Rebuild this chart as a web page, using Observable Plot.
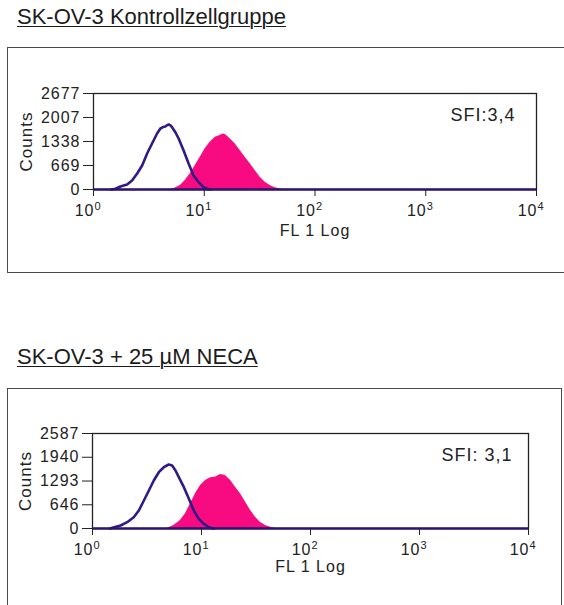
<!DOCTYPE html>
<html>
<head>
<meta charset="utf-8">
<script src="https://cdn.jsdelivr.net/npm/d3@7"></script>
<script src="https://cdn.jsdelivr.net/npm/@observablehq/plot@0.6"></script>
<style>
  html, body { margin: 0; padding: 0; background: #fff; }
  body { width: 564px; height: 605px; overflow: hidden; position: relative; font-family: "Liberation Sans", Arial, sans-serif; }
  .title { position: absolute; left: 17px; font-size: 22px; line-height: 22px; color: #1c1c1c; text-decoration: underline; text-decoration-thickness: 1.3px; text-underline-offset: 2px; white-space: nowrap; }
  .box { position: absolute; border: 1.5px solid #4a4a4a; box-sizing: border-box; }
  .panel { position: absolute; left: 0; }
  svg text { letter-spacing: 1px; }
</style>
</head>
<body>
<div class="title" id="t1" style="top:6px"></div>
<div class="box" style="left:7px; top:47px; width:580px; height:226px;"></div>
<div class="panel" id="p1" style="top:48px"></div>
<div class="title" id="t2" style="top:346px"></div>
<div class="box" style="left:7px; top:388px; width:555px; height:300px;"></div>
<div class="panel" id="p2" style="top:388px"></div>
<script>
// ---- Titles ----
const titles = ["SK-OV-3 Kontrollzellgruppe", "SK-OV-3 + 25 µM NECA"];
const sfiLabels = ["SFI:3,4", "SFI: 3,1"];
const yLabel = "Counts";
const xLabel = "FL 1 Log";

// ---- Axes ----
const xTicks = [1, 10, 100, 1000, 10000];
const xTickBase = "10";
const xTickExponents = ["0", "1", "2", "3", "4"];
const yTicksA = [0, 669, 1338, 2007, 2677];
const yTickLabelsA = ["0", "669", "1338", "2007", "2677"];
const yTicksB = [0, 646, 1293, 1940, 2587];
const yTickLabelsB = ["0", "646", "1293", "1940", "2587"];

// ---- Panel A: control histogram (outline) ----
const ctrlFL_A =     [1.45, 1.58, 1.75, 2.01, 2.23, 2.48, 2.75, 3.05, 3.38, 3.75, 4.02, 4.25, 4.45, 4.6, 4.77, 4.95, 5.12, 5.48, 5.87, 6.51, 7.22, 8.01, 8.89, 9.86, 10.9, 11.5];
const ctrlCounts_A = [0,    20,   84,   140,  251,  446,  669,  1004, 1283, 1562, 1701, 1740, 1757, 1790, 1813, 1785, 1737, 1598, 1422, 1088, 725,  390,  204,  64,   8,    0];
// ---- Panel A: stained histogram (filled) ----
const stainFL_A =     [5.0, 5.29, 6.08, 6.74, 7.48, 8.30, 9.20, 10.2, 11.3, 12.6, 13.9, 14.7, 15.5, 16.3, 17.1, 19.0, 21.1, 23.4, 26.0, 28.8, 32.0, 35.5, 39.3, 43.6, 50.1, 53];
const stainCounts_A = [0,   20,   112,  251,  437,  669,  901,  1135, 1320, 1459, 1506, 1545, 1534, 1480, 1413, 1274, 1088, 901,  716,  530,  344,  204,  112,  47,   8,    0];

// ---- Panel B: control histogram (outline) ----
const ctrlFL_B =     [1.45, 1.52, 1.81, 2.08, 2.39, 2.66, 2.96, 3.29, 3.65, 4.06, 4.51, 5.01, 5.38, 5.77, 6.19, 6.89, 7.66, 8.49, 9.44, 10.5, 11.7, 12.5, 13];
const ctrlCounts_B = [0,    19,   82,   172,  308,  490,  762,  1035, 1307, 1533, 1669, 1743, 1715, 1579, 1397, 1125, 809,  490,  264,  128,  35,   5,    0];
// ---- Panel B: stained histogram (filled) ----
const stainFL_B =     [4.8, 5.01, 5.57, 6.41, 7.13, 7.93, 8.81, 9.79, 10.9, 12.1, 13.4, 14.9, 16.6, 18.5, 20.5, 22.8, 25.4, 28.2, 31.3, 34.6, 38.6, 44.6, 48];
const stainCounts_B = [0,   19,   82,   218,  399,  672,  944,  1171, 1307, 1380, 1397, 1470, 1443, 1307, 1125, 944,  716,  490,  308,  172,  82,   19,   0];

const zip = (xs, ys) => xs.map((x, i) => ({x, y: ys[i]}));

function panel({ctrl, stain, yTicks, yTickLabels, sfi, height, plotH, marginLeft, marginRight, sfiDx, sfiDy, xLabelDy}) {
  const yMax = yTicks[yTicks.length - 1];
  return Plot.plot({
    width: 564,
    height,
    marginTop: 45,
    marginBottom: height - 45 - plotH,
    marginLeft,
    marginRight,
    style: {fontFamily: '"Liberation Sans", Arial, sans-serif', background: "transparent", overflow: "visible", color: "#222"},
    x: {type: "log", domain: [1, 10000]},
    y: {domain: [0, yMax]},
    marks: [
      Plot.areaY(stain, {x: "x", y: "y", fill: "#f80a80"}),
      Plot.line(ctrl, {x: "x", y: "y", stroke: "#311a84", strokeWidth: 2.6, strokeLinejoin: "round"}),
      Plot.frame({stroke: "#222", strokeWidth: 1.3}),
      Plot.ruleY([0], {stroke: "#2e1470", strokeWidth: 2.4}),
      Plot.axisY({ticks: yTicks, tickSize: 10, tickPadding: 3, label: null, fontSize: 16, fill: "#222",
        tickFormat: d => yTickLabels[yTicks.indexOf(d)]}),
      Plot.axisX({ticks: xTicks, tickSize: 7, fill: "none", label: null}),
      Plot.text(xTicks, {x: d => d, text: () => xTickBase, frameAnchor: "bottom", dy: 15, dx: 1, fontSize: 16, fill: "#222", textAnchor: "end", lineAnchor: "top"}),
      Plot.text(xTicks, {x: d => d, text: (d, i) => xTickExponents[i], frameAnchor: "bottom", dy: 13, dx: 1, fontSize: 11, fill: "#222", textAnchor: "start", lineAnchor: "top"}),
      Plot.text([yLabel], {text: d => d, frameAnchor: "left", dx: -67, rotate: -90, fontSize: 17, fill: "#222", textAnchor: "middle", lineAnchor: "middle"}),
      Plot.text([xLabel], {text: d => d, frameAnchor: "bottom", dy: xLabelDy, fontSize: 16, fill: "#222", textAnchor: "middle", lineAnchor: "middle"}),
      Plot.text([sfi], {text: d => d, frameAnchor: "top-right", dx: sfiDx, dy: sfiDy, fontSize: 18, fill: "#222", textAnchor: "end", lineAnchor: "middle"})
    ]
  });
}

document.getElementById("t1").textContent = titles[0];
document.getElementById("t2").textContent = titles[1];

document.getElementById("p1").appendChild(panel({
  ctrl: zip(ctrlFL_A, ctrlCounts_A), stain: zip(stainFL_A, stainCounts_A),
  yTicks: yTicksA, yTickLabels: yTickLabelsA, sfi: sfiLabels[0],
  height: 201, plotH: 96, marginLeft: 93, marginRight: 28, sfiDx: -21, sfiDy: 22, xLabelDy: 41
}));
document.getElementById("p2").appendChild(panel({
  ctrl: zip(ctrlFL_B, ctrlCounts_B), stain: zip(stainFL_B, stainCounts_B),
  yTicks: yTicksB, yTickLabels: yTickLabelsB, sfi: sfiLabels[1],
  height: 200, plotH: 95, marginLeft: 92, marginRight: 36, sfiDx: -16, sfiDy: 22, xLabelDy: 38
}));
</script>
</body>
</html>
